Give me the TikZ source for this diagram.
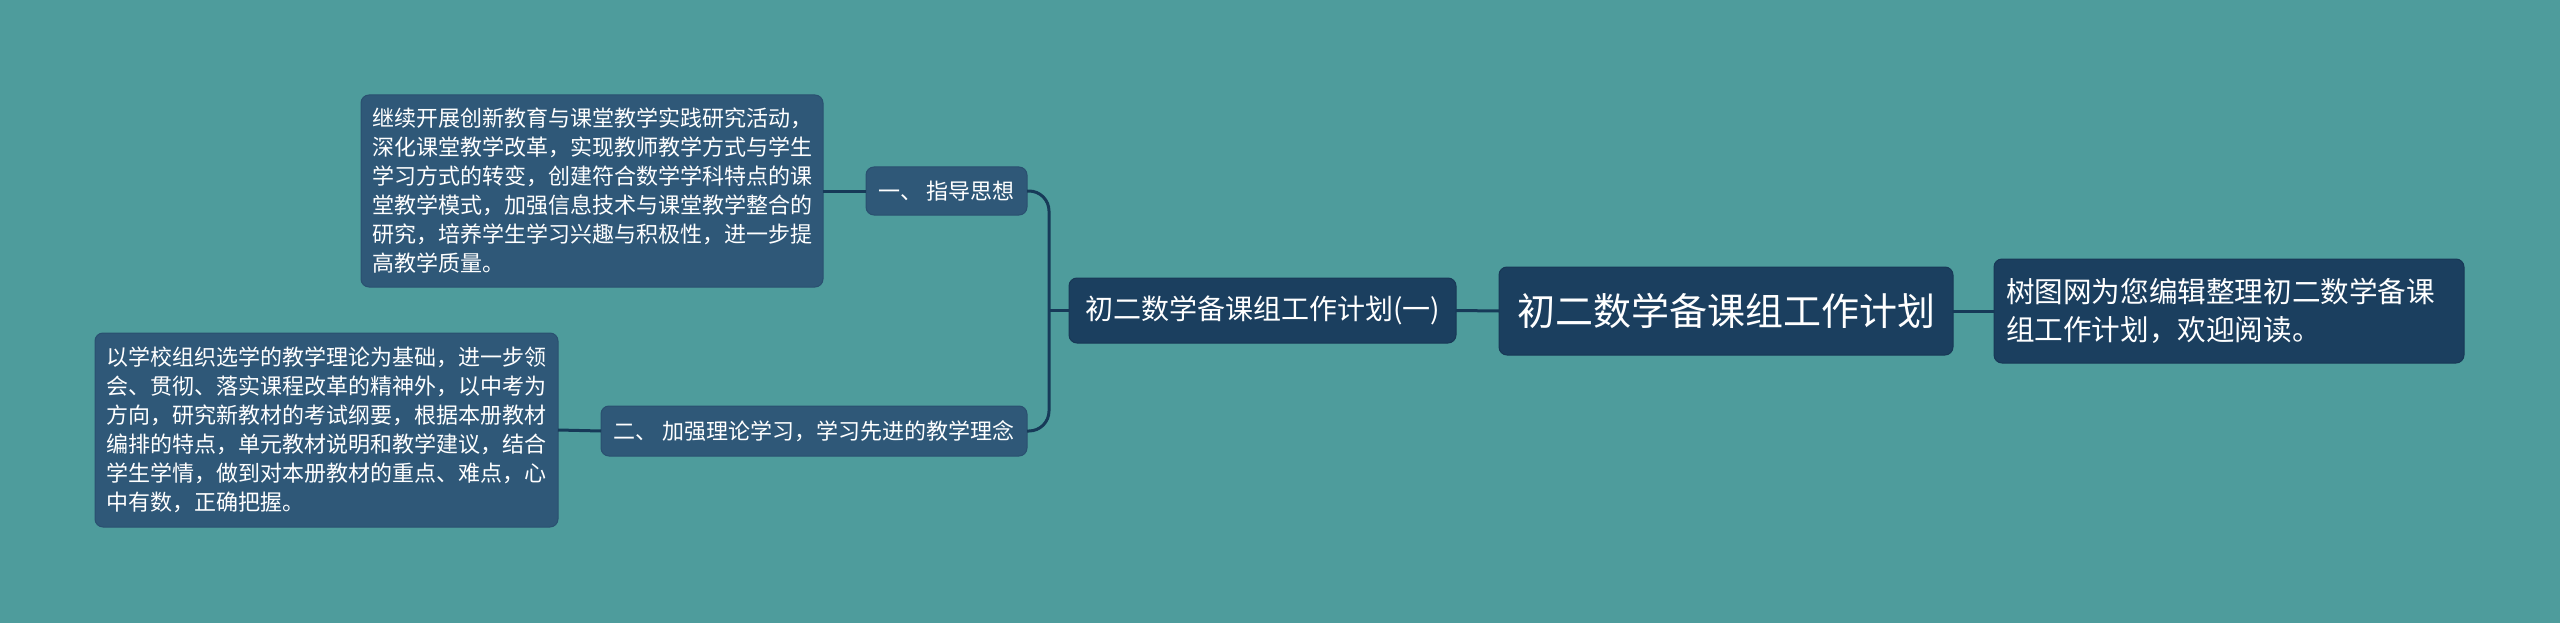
\documentclass[tikz,border=0pt]{standalone}
\usepackage{fontspec}
\setmainfont{Noto Sans CJK SC}
\begin{document}
\begin{tikzpicture}[x=1pt,y=-1pt,
  every node/.style={inner sep=0pt, outer sep=0pt, text=white, rounded corners=8pt, anchor=center},
  leafbox/.style={fill=leafc, draw=leafb, line width=1pt, align=left, font=\fontsize{22}{29}\selectfont},
  midbox/.style={fill=leafc, draw=leafb, line width=1pt, align=center, font=\fontsize{22}{29}\selectfont},
  darkbox/.style={fill=darkc, draw=darkb, line width=1pt, align=center},
  link/.style={draw=linec, line width=3pt}
]
\definecolor{bgc}{HTML}{4E9C9C}
\definecolor{leafc}{HTML}{2F5878}
\definecolor{leafb}{HTML}{2A5070}
\definecolor{darkc}{HTML}{1B3F5F}
\definecolor{darkb}{HTML}{183856}
\definecolor{linec}{HTML}{173A58}
\fill[bgc] (0,0) rectangle (2560,623);
\useasboundingbox (0,0) rectangle (2560,623);

\node[leafbox, minimum width=462pt, minimum height=192pt] (l1) at (592,191)
 {\parbox{440pt}{\fontsize{22}{29}\selectfont
 继续开展创新教育与课堂教学实践研究活动，\\
 深化课堂教学改革，实现教师教学方式与学生\\
 学习方式的转变，创建符合数学学科特点的课\\
 堂教学模式，加强信息技术与课堂教学整合的\\
 研究，培养学生学习兴趣与积极性，进一步提\\
 高教学质量。}};

\node[leafbox, minimum width=463pt, minimum height=194pt] (l2) at (326.5,430)
 {\parbox{440pt}{\fontsize{22}{29}\selectfont
 以学校组织选学的教学理论为基础，进一步领\\
 会、贯彻、落实课程改革的精神外，以中考为\\
 方向，研究新教材的考试纲要，根据本册教材\\
 编排的特点，单元教材说明和教学建议，结合\\
 学生学情，做到对本册教材的重点、难点，心\\
 中有数，正确把握。}};

\node[midbox, minimum width=161pt, minimum height=48pt] (one) at (946.5,191) {一、 指导思想};
\node[midbox, minimum width=426pt, minimum height=50pt] (two) at (814,431) {二、 加强理论学习，学习先进的教学理念};

\node[darkbox, minimum width=387pt, minimum height=65pt, font=\fontsize{28}{33}\selectfont] (sub) at (1262.5,310.5) {初二数学备课组工作计划(一)};
\node[darkbox, minimum width=454pt, minimum height=88pt, font=\fontsize{38}{44}\selectfont] (main) at (1726,311) {初二数学备课组工作计划};
\node[darkbox, minimum width=470pt, minimum height=104pt, align=left] (right) at (2229,311)
 {\parbox{446pt}{\fontsize{28.6}{37.5}\selectfont
 树图网为您编辑整理初二数学备课\\
 组工作计划，欢迎阅读。}};

\coordinate (j) at ([xshift=-20pt]sub.west);
\draw[link] (l1.east) -- (one.west);
\draw[link] (l2.east) -- (two.west);
\draw[link, rounded corners=20pt] (one.east) -| (j) |- (two.east);
\draw[link] (j) -- (sub.west);
\draw[link] (sub.east) -- (main.west);
\draw[link] (main.east) -- (right.west);
\end{tikzpicture}
\end{document}
